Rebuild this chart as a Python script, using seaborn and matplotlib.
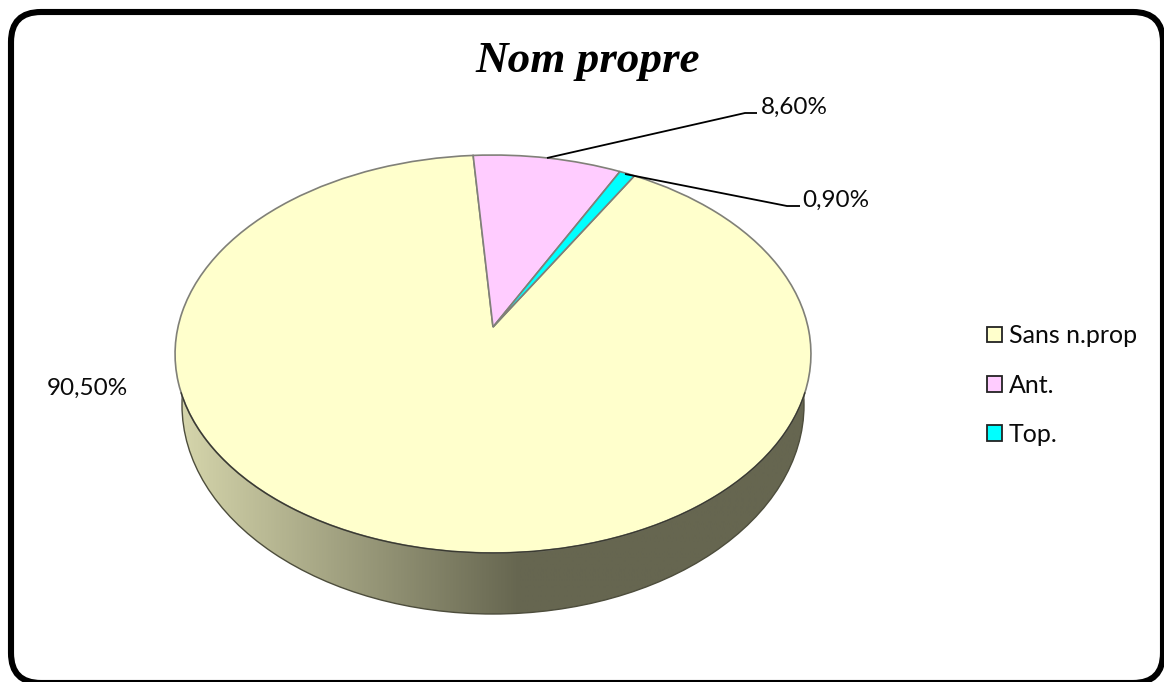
import numpy as np
import matplotlib
matplotlib.use("Agg")
import matplotlib.pyplot as plt
from matplotlib.patches import Arc, Ellipse, FancyBboxPatch, Patch
from matplotlib.transforms import Transform
import seaborn as sns

# ---- data ----
TITLE = "Nom propre"
categories = ["Sans n.prop", "Ant.", "Top."]
values = [90.5, 8.6, 0.9]
value_labels = ["90,50%", "8,60%", "0,90%"]
colors = ["#FFFFCC", "#FFCCFF", "#00FFFF"]

sns.set_theme(style="white")
plt.rcParams["font.family"] = ["Lato", "DejaVu Sans"]

W, H = 1164, 682
fig = plt.figure(figsize=(W / 100, H / 100), dpi=100, facecolor="white")
ax = fig.add_axes([0, 0, 1, 1])


class TiltedPie(Transform):
    """Perspective view of the unit disc, apex off the ellipse centre."""
    input_dims = output_dims = 2
    is_separable = False
    has_inverse = False

    def __init__(self, cx, cy, a, b, k):
        super().__init__()
        self.cx, self.cy, self.a, self.b, self.k = cx, cy, a, b, k

    def transform_non_affine(self, values):
        xy = np.asarray(values, dtype=float)
        d = 1 + self.k * xy[:, 1]
        return np.column_stack((self.cx + self.a * xy[:, 0] / d,
                                self.cy - self.b * xy[:, 1] / d))


# side wall with left-to-right shading
wall = Ellipse((493, 405), 622, 418, facecolor="none", edgecolor="#4d4d3c", lw=1.0, zorder=2)
ax.add_patch(wall)
shade = np.clip((np.linspace(170, 820, 400) - 178) / (520 - 178), 0, 1)[None, :]
img = ax.imshow(shade, extent=(170, 820, 640, 190), aspect="auto", zorder=1,
                cmap=sns.blend_palette(["#d6d6ac", "#666650"], as_cmap=True), vmin=0, vmax=1)
img.set_clip_path(wall)

# top of the pie
wedges, _ = ax.pie(values, colors=colors, startangle=59.9, counterclock=False,
                   wedgeprops=dict(edgecolor="#808078", linewidth=1.2))
tilt = TiltedPie(493, 327, 315, 195.3, 0.1357)
for w in wedges:
    w.set_transform(tilt + ax.transData)
    w.set_zorder(3)

ax.set_aspect("auto")
ax.set_xlim(0, W)
ax.set_ylim(H, 0)
ax.axis("off")

# dark front rim (y axis runs downward, so 0-180 degrees is the near side)
ax.add_patch(Arc((493, 354), 636, 398, theta1=7, theta2=173, color="#3a3a30", lw=1.0, zorder=4))

# outer frame
ax.add_patch(FancyBboxPatch((11, 12), 1152, 671, boxstyle="round,pad=0,rounding_size=30",
                            facecolor="none", edgecolor="black", lw=4.4, zorder=6, clip_on=True))

# title
ax.text(588, 72, TITLE, family="Liberation Serif", style="italic", weight="bold",
        fontsize=32.5, ha="center", va="baseline", color="black", zorder=7)

# data labels with leaders
ax.plot([547, 745, 757], [158, 113, 113], color="black", lw=1.3, zorder=5, solid_capstyle="butt")
ax.plot([625, 787, 800], [174, 206, 206], color="black", lw=1.3, zorder=5, solid_capstyle="butt")
label_fs = 17.5
ax.text(87, 388, value_labels[0], fontsize=label_fs, ha="center", va="center", color="#0a0a0a")
ax.text(794, 107, value_labels[1], fontsize=label_fs, ha="center", va="center", color="#0a0a0a")
ax.text(836, 200, value_labels[2], fontsize=label_fs, ha="center", va="center", color="#0a0a0a")

# legend
handles = [Patch(facecolor=c, edgecolor="#222222", linewidth=1.3) for c in colors]
leg = ax.legend(handles, categories, loc="center left", bbox_to_anchor=(987 / W, 1 - 385 / H),
                frameon=False, fontsize=18, handlelength=0.6, handleheight=0.6,
                handletextpad=0.28, labelspacing=1.05, borderpad=0, borderaxespad=0,
                labelcolor="#0a0a0a")

fig.savefig("out.png", dpi=100, facecolor="white")
